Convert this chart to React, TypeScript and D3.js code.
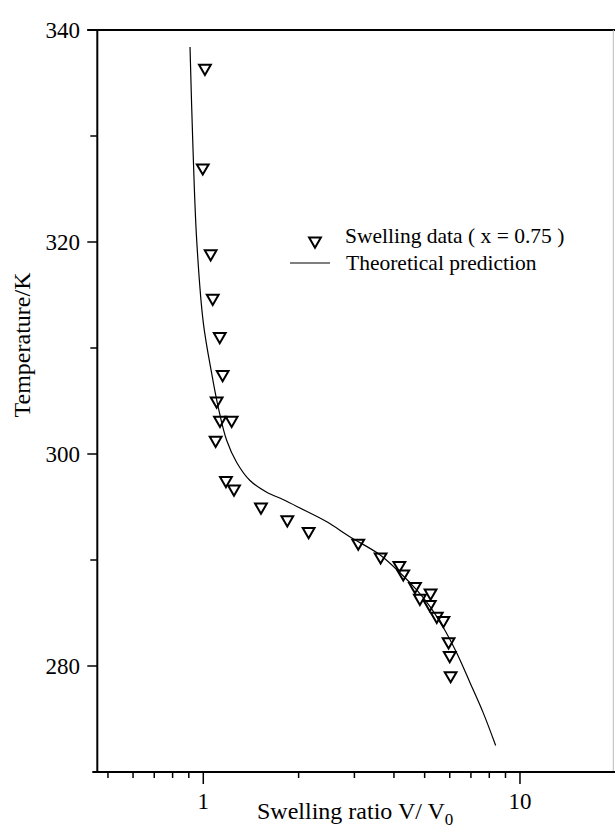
import React from "react";
import * as d3 from "d3";

// Measured swelling ratio V/V0 and temperature (K)
const swellingRatio = [
  1.012, 0.996, 1.055, 1.071, 1.127, 1.151, 1.102, 1.129, 1.229, 1.094,
  1.179, 1.25, 1.521, 1.842, 2.151, 3.085, 3.63, 4.16, 4.28, 4.66,
  4.83, 5.22, 5.19, 5.46, 5.73, 5.95, 6.0, 6.04,
];
const temperature = [
  336.4, 327.0, 318.9, 314.7, 311.1, 307.5, 305.0, 303.2, 303.2, 301.3,
  297.5, 296.7, 295.0, 293.8, 292.7, 291.6, 290.3, 289.5, 288.7, 287.5,
  286.4, 286.9, 285.8, 284.7, 284.3, 282.3, 281.0, 279.1,
];

// Theoretical prediction
const theoryRatio = [
  0.908, 0.926, 0.953, 1.0, 1.063, 1.115, 1.185, 1.275, 1.404, 1.586,
  1.785, 2.02, 2.455, 2.9, 3.61, 4.18, 4.71, 5.2, 5.71, 6.32, 6.96, 7.65, 8.38,
];
const theoryTemp = [
  338.4, 329.6, 320.2, 312.4, 307.6, 304.4, 301.3, 299.2, 297.5, 296.4,
  295.7, 294.9, 293.6, 292.2, 290.5, 288.8, 287.2, 285.6, 283.7, 281.2,
  278.4, 275.6, 272.5,
];

const xDomain = [0.4627, 19.71];
const yDomain = [270, 340];
const xMajorTicks = [1, 10];
const xMinorTicks = [0.5, 0.6, 0.7, 0.8, 0.9, 2, 3, 4, 5, 6, 7, 8, 9];
const yMajorTicks = [280, 300, 320, 340];
const yMinorTicks = [290, 310, 330];
const legendLabels = ["Swelling data ( x = 0.75 )", "Theoretical prediction"];

const FONT = "'Liberation Serif', 'DejaVu Serif', 'Times New Roman', serif";
const txt = { fontFamily: FONT };

export default function App() {
  const width = 615;
  const height = 831;
  const left = 97.3;
  const right = 613.3;
  const top = 30;
  const bottom = 772;

  const x = d3.scaleLog().domain(xDomain).range([left, right]);
  const y = d3.scaleLinear().domain(yDomain).range([bottom, top]);

  const points = swellingRatio.map((v, i) => ({ v, t: temperature[i] }));
  const theory = theoryRatio.map((v, i) => ({ v, t: theoryTemp[i] }));

  const line = d3
    .line<{ v: number; t: number }>()
    .x((d) => x(d.v))
    .y((d) => y(d.t))
    .curve(d3.curveCatmullRom.alpha(0.5));

  const tri = d3.symbol(d3.symbolTriangle, 60)() as string;

  return (
    <svg
      width={width}
      height={height}
      style={{ position: "absolute", left: 0, top: 0, background: "#fff" }}
    >
      <rect x={0} y={0} width={width} height={height} fill="#fff" />

      {/* frame */}
      <line x1={left - 10} x2={width} y1={top} y2={top} stroke="#000" strokeWidth={2} />
      <line x1={right} x2={right} y1={top} y2={bottom} stroke="#bbb" strokeWidth={1} />
      <line x1={left} x2={left} y1={top} y2={bottom + 1} stroke="#000" strokeWidth={2} />
      <line x1={left - 5} x2={width} y1={bottom} y2={bottom} stroke="#000" strokeWidth={2} />

      {/* y ticks */}
      {yMajorTicks.map((t) => (
        <g key={"ym" + t}>
          <line x1={left - 10} x2={left} y1={y(t)} y2={y(t)} stroke="#000" strokeWidth={1.5} />
          <text x={80} y={y(t) + 8} fontSize={23} textAnchor="end" fill="#000" style={txt}>
            {t}
          </text>
        </g>
      ))}
      {yMinorTicks.map((t) => (
        <line key={"yn" + t} x1={left - 7} x2={left} y1={y(t)} y2={y(t)} stroke="#000" strokeWidth={1.5} />
      ))}

      {/* x ticks */}
      {xMajorTicks.map((t) => (
        <g key={"xm" + t}>
          <line x1={x(t)} x2={x(t)} y1={bottom} y2={bottom + 12} stroke="#000" strokeWidth={1.5} />
          <text x={x(t)} y={809} fontSize={23} textAnchor="middle" fill="#000" style={txt}>
            {t}
          </text>
        </g>
      ))}
      {xMinorTicks.map((t) => (
        <line key={"xn" + t} x1={x(t)} x2={x(t)} y1={bottom} y2={bottom + 6} stroke="#000" strokeWidth={1.5} />
      ))}

      {/* axis titles */}
      <text
        transform={`translate(30,345) rotate(-90)`}
        fontSize={24}
        textAnchor="middle"
        fill="#000"
        style={txt}
      >
        Temperature/K
      </text>
      <text x={257} y={819} fontSize={24} fill="#000" style={txt}>
        Swelling ratio V/ V
        <tspan fontSize={17} dy={6}>0</tspan>
      </text>

      {/* theory curve */}
      <path d={line(theory) as string} fill="none" stroke="#000" strokeWidth={1.2} />

      {/* data */}
      {points.map((d, i) => (
        <path
          key={i}
          d={tri}
          transform={`translate(${x(d.v)},${y(d.t)}) rotate(180)`}
          fill="none"
          stroke="#000"
          strokeWidth={2}
        />
      ))}

      {/* legend */}
      <path
        d={tri}
        transform="translate(315,241) rotate(180)"
        fill="none"
        stroke="#000"
        strokeWidth={2}
      />
      <text x={345} y={243} fontSize={21.5} fill="#000" style={txt}>
        {legendLabels[0]}
      </text>
      <line x1={290} x2={330} y1={263} y2={263} stroke="#000" strokeWidth={1.2} />
      <text x={346} y={269.5} fontSize={21.5} fill="#000" style={txt}>
        {legendLabels[1]}
      </text>
    </svg>
  );
}
